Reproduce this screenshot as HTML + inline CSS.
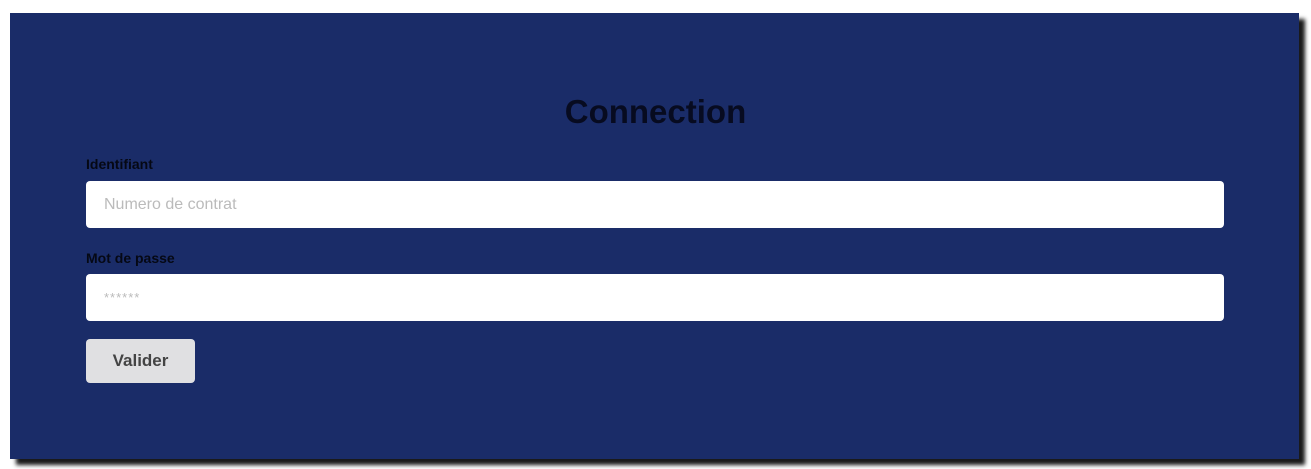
<!DOCTYPE html>
<html><head><meta charset="utf-8"><style>
html,body{margin:0;padding:0;background:#fff;width:1311px;height:469px;overflow:hidden;font-family:"Liberation Sans",sans-serif}
#panel{position:absolute;left:10px;top:13px;width:1289px;height:446px;background:#1a2c68;box-shadow:6px 6px 4px #1a1a1a}
h1{position:absolute;left:0;width:100%;top:92px;margin:0;text-align:center;font-size:33px;font-weight:bold;color:#070b20;line-height:40px}
.lbl{position:absolute;left:86px;font-size:14px;font-weight:bold;color:#050814}
.inp{position:absolute;left:86px;width:1138px;height:47px;background:#fff;border-radius:4px;border:none;box-sizing:border-box;padding:0 18px;font-size:16px;color:#bbb;line-height:47px;font-family:"Liberation Sans",sans-serif}
#btn{position:absolute;left:86px;top:339px;width:109px;height:44px;background:#e0e0e2;border-radius:4px;font-size:17px;font-weight:bold;color:#444;text-align:center;line-height:44px}
</style></head><body>
<div id="panel"></div>
<h1>Connection</h1>
<div class="lbl" style="top:156px">Identifiant</div>
<div class="inp" style="top:181px">Numero de contrat</div>
<div class="lbl" style="top:250px">Mot de passe</div>
<div class="inp" style="top:274px;font-size:13px;letter-spacing:1px">******</div>
<div id="btn">Valider</div>
</body></html>
